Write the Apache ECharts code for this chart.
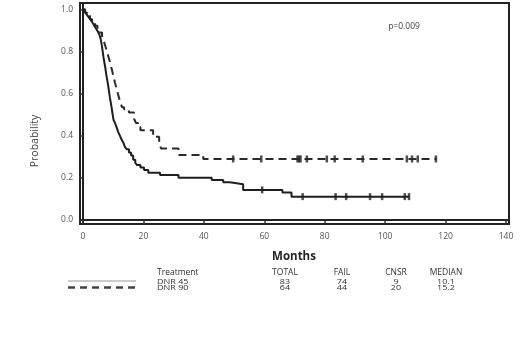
<!DOCTYPE html>
<html>
<head>
<meta charset="utf-8">
<script src="https://cdn.jsdelivr.net/npm/echarts@6/dist/echarts.min.js"></script>
<style>
    html, body { margin: 0; padding: 0; background: #fff; }
    #chart { width: 520px; height: 350px; }
</style>
</head>
<body>
<div id="chart"></div>
<script>
// DNR 45 (solid) KM steps
let dnr45Times = [0, 0.6, 1.2, 1.8, 2.4, 3.0, 3.5, 4.0, 4.5, 5.0, 5.4, 5.9, 6.2, 6.5, 6.8, 7.1, 7.4, 7.7, 8.0, 8.3, 8.6, 8.9, 9.2, 9.5, 9.8, 10.1, 10.6, 11.1, 11.7, 12.2, 12.8, 13.4, 13.9, 14.5, 15.2, 15.9, 16.6, 17.3, 17.9, 19.0, 20.2, 21.6, 25.5, 31.6, 42.6, 46.4, 48.6, 53.0, 66.0, 69.0, 108];
let dnr45Surv = [1.0, 0.988, 0.976, 0.964, 0.952, 0.94, 0.928, 0.916, 0.904, 0.892, 0.88, 0.855, 0.83, 0.80, 0.77, 0.745, 0.72, 0.69, 0.665, 0.64, 0.61, 0.58, 0.555, 0.53, 0.50, 0.475, 0.46, 0.44, 0.415, 0.40, 0.38, 0.365, 0.345, 0.335, 0.32, 0.305, 0.285, 0.27, 0.26, 0.248, 0.236, 0.224, 0.213, 0.200, 0.189, 0.178, 0.169, 0.142, 0.13, 0.11, 0.11];
let dnr45Censor = [59.3, 72.7, 83.6, 87.1, 95, 99, 106.5, 107.9];

// DNR 90 (dashed) KM steps
let dnr90Times = [0, 0.7, 1.5, 2.3, 3.0, 4.0, 4.8, 5.6, 6.3, 6.8, 7.3, 7.9, 8.5, 9.1, 9.6, 10.1, 10.6, 11.2, 11.7, 12.3, 12.9, 13.6, 15.2, 16.9, 17.5, 18.2, 19.0, 23.2, 25.2, 25.8, 31.6, 39.8, 117];
let dnr90Surv = [1.0, 0.984, 0.969, 0.953, 0.938, 0.922, 0.906, 0.89, 0.87, 0.852, 0.83, 0.80, 0.77, 0.74, 0.71, 0.68, 0.65, 0.62, 0.59, 0.56, 0.535, 0.525, 0.51, 0.48, 0.46, 0.44, 0.426, 0.394, 0.37, 0.339, 0.308, 0.289, 0.289];
let dnr90Censor = [49.7, 59, 71, 71.5, 72, 74.1, 80.7, 83.3, 92.6, 107.2, 108.9, 110.8, 116.8];

let xTicks = [0, 20, 40, 60, 80, 100, 120, 140];
let yTicks = [0, 0.2, 0.4, 0.6, 0.8, 1.0];

// summary table
let tableHeader = ['Treatment', 'TOTAL', 'FAIL', 'CNSR', 'MEDIAN'];
let rowDnr45 = ['DNR 45', '83', '74', '9', '10.1'];
let rowDnr90 = ['DNR 90', '64', '44', '20', '15.2'];

function pairs(times, surv) {
    return times.map((t, i) => [t, surv[i]]);
}

function survAt(times, surv, t) {
    let v = surv[0];
    for (let i = 0; i < times.length; i++) {
        if (times[i] <= t) v = surv[i];
    }
    return v;
}

function censorPoints(censor, times, surv) {
    return censor.map(t => [t, survAt(times, surv, t)]);
}

let colX = [157, 285, 342, 396, 446];
let fontFam = '"Open Sans", "DejaVu Sans", sans-serif';
let frame = { color: '#222', width: 2 };

function tableRow(cells, y, size, sy) {
    return cells.map((c, i) => ({
        type: 'text',
        x: colX[i],
        y: y,
        scaleY: sy,
        style: {
            text: c,
            x: 0,
            y: 0,
            fill: '#333',
            font: size + 'px ' + fontFam,
            textAlign: i === 0 ? 'left' : 'center',
            textVerticalAlign: 'middle'
        }
    }));
}

let myChart = echarts.init(document.getElementById('chart'));
let option = {
    animation: false,
    backgroundColor: '#fff',
    grid: {
        left: 80,
        right: 11,
        top: 3,
        bottom: 126,
        show: true,
        borderColor: '#222',
        borderWidth: 2,
        containLabel: false,
        outerBoundsMode: 'none'
    },
    xAxis: [
        {
            type: 'value',
            min: -1,
            max: 141,
            axisLine: { show: true, lineStyle: frame },
            splitLine: { show: false },
            axisTick: {
                show: true,
                customValues: xTicks,
                length: 4,
                lineStyle: { color: '#333', width: 1.5 }
            },
            axisLabel: {
                customValues: xTicks,
                color: '#555',
                fontSize: 8.5,
                fontFamily: fontFam,
                margin: 8
            }
        },
        {
            type: 'value',
            position: 'top',
            min: -1,
            max: 141,
            axisLine: { show: true, lineStyle: frame },
            axisTick: { show: false },
            axisLabel: { show: false },
            splitLine: { show: false }
        }
    ],
    yAxis: [
        {
            type: 'value',
            min: -0.02,
            max: 1.03,
            axisLine: { show: true, lineStyle: frame },
            splitLine: { show: false },
            axisTick: {
                show: true,
                customValues: yTicks,
                length: 4,
                lineStyle: { color: '#333', width: 1.5 }
            },
            axisLabel: {
                customValues: yTicks,
                formatter: v => v.toFixed(1),
                color: '#555',
                fontSize: 8.5,
                fontFamily: fontFam,
                margin: 7
            }
        },
        {
            type: 'value',
            position: 'right',
            min: -0.02,
            max: 1.03,
            axisLine: { show: true, lineStyle: frame },
            axisTick: { show: false },
            axisLabel: { show: false },
            splitLine: { show: false }
        }
    ],
    series: [
        {
            type: 'line',
            step: 'end',
            showSymbol: false,
            data: pairs(dnr90Times, dnr90Surv),
            lineStyle: { color: '#2a2a2a', width: 2, type: [8, 5] }
        },
        {
            type: 'line',
            step: 'end',
            showSymbol: false,
            data: pairs(dnr45Times, dnr45Surv),
            lineStyle: { color: '#1e1e1e', width: 2, type: 'solid' }
        },
        {
            type: 'scatter',
            symbol: 'rect',
            symbolSize: [2.5, 7],
            itemStyle: { color: '#222' },
            data: censorPoints(dnr90Censor, dnr90Times, dnr90Surv)
        },
        {
            type: 'scatter',
            symbol: 'rect',
            symbolSize: [2.5, 7],
            itemStyle: { color: '#222' },
            data: censorPoints(dnr45Censor, dnr45Times, dnr45Surv)
        }
    ],
    graphic: [
        {
            type: 'text',
            x: 35,
            y: 141,
            rotation: Math.PI / 2,
            style: {
                text: 'Probability',
                x: 0, y: 0,
                fill: '#444',
                font: '10.5px ' + fontFam,
                textAlign: 'center',
                textVerticalAlign: 'middle'
            }
        },
        {
            type: 'text',
            x: 294,
            y: 257,
            style: {
                text: 'Months',
                x: 0, y: 0,
                fill: '#222',
                font: 'bold 11.5px ' + fontFam,
                textAlign: 'center',
                textVerticalAlign: 'middle'
            }
        },
        {
            type: 'text',
            x: 404,
            y: 27,
            style: {
                text: 'p=0.009',
                x: 0, y: 0,
                fill: '#444',
                font: '8.5px ' + fontFam,
                textAlign: 'center',
                textVerticalAlign: 'middle'
            }
        },
        {
            type: 'line',
            shape: { x1: 68, y1: 281, x2: 136, y2: 281 },
            style: { stroke: '#999', lineWidth: 1.2 }
        },
        {
            type: 'line',
            shape: { x1: 68, y1: 287.5, x2: 136, y2: 287.5 },
            style: { stroke: '#444', lineWidth: 2.5, lineDash: [7, 5] }
        }
    ].concat(tableRow(tableHeader, 272.5, 8.5, 1))
     .concat(tableRow(rowDnr45, 282.5, 9, 0.7))
     .concat(tableRow(rowDnr90, 288, 9, 0.7))
};

myChart.setOption(option);
</script>
</body>
</html>
